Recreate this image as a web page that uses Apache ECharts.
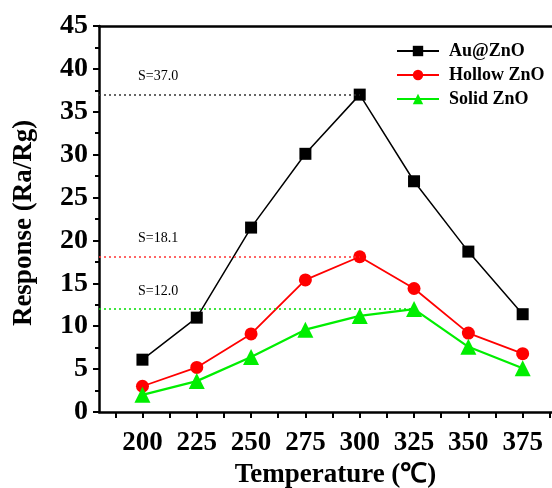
<!DOCTYPE html>
<html>
<head>
<meta charset="utf-8">
<script src="https://cdn.jsdelivr.net/npm/echarts@6/dist/echarts.min.js"></script>
<style>
    html, body { margin: 0; padding: 0; background: #fff; }
    #main { width: 552px; height: 488px; }
</style>
</head>
<body>
<div id="main"></div>
<script>
// 温度 (℃)
var temps = [200, 225, 250, 275, 300, 325, 350, 375];
var tickTemps = [187.5, 200, 212.5, 225, 237.5, 250, 262.5, 275, 287.5, 300, 312.5, 325, 337.5, 350, 362.5, 375, 387.5];
// 响应值 (Ra/Rg)
var auZno = [6.1, 11.0, 21.5, 30.1, 37.0, 26.9, 18.7, 11.4];
var hollowZno = [3.0, 5.2, 9.1, 15.4, 18.1, 14.4, 9.2, 6.8];
var solidZno = [2.0, 3.6, 6.4, 9.6, 11.2, 12.0, 7.6, 5.1];
// 最大响应标注
var peakTemps = [300, 300, 325];
var peakValues = [37.0, 18.1, 12.0];

var serif = '"Liberation Serif", "Times New Roman", serif';

function pairs(ys) {
    return temps.map(function (t, i) { return [t, ys[i]]; });
}

function peakLine(i, color) {
    return {
        symbol: 'none',
        silent: true,
        animation: false,
        lineStyle: { type: [2, 3], color: color, width: 1.5 },
        label: {
            show: true,
            position: 'insideStartTop',
            distance: [39, 11],
            formatter: 'S=' + peakValues[i].toFixed(1),
            color: '#000',
            fontFamily: serif,
            fontSize: 14
        },
        data: [[{ coord: [180, peakValues[i]] }, { coord: [peakTemps[i], peakValues[i]] }]]
    };
}

var option = {
    animation: false,
    backgroundColor: '#fff',
    grid: { left: 99, right: 0, top: 26, bottom: 76, outerBoundsMode: 'none', containLabel: false },
    legend: {
        orient: 'vertical',
        left: 396,
        top: 42,
        padding: 0,
        itemWidth: 42,
        itemHeight: 13,
        itemGap: 6,
        textStyle: { fontFamily: serif, fontSize: 18, fontWeight: 'bold', color: '#000', padding: [0, 0, 0, 5] },
        data: ['Au@ZnO', 'Hollow ZnO', 'Solid ZnO']
    },
    xAxis: [{
        type: 'value',
        min: 180,
        max: 388.5,
        position: 'bottom',
        splitLine: { show: false },
        axisLine: { lineStyle: { color: '#000', width: 2.5 } },
        axisTick: { inside: false, length: 6, lineStyle: { width: 2, color: '#000' }, customValues: tickTemps },
        axisLabel: { customValues: temps, margin: 18, color: '#000', fontFamily: serif, fontSize: 27, fontWeight: 'bold' },
        name: 'Temperature (℃)',
        nameLocation: 'middle',
        nameGap: 43,
        nameTextStyle: { color: '#000', fontFamily: serif, fontSize: 27, fontWeight: 'bold', padding: [0, 0, 0, 20] }
    }, {
        type: 'value',
        min: 180,
        max: 388.5,
        position: 'top',
        splitLine: { show: false },
        axisLine: { lineStyle: { color: '#000', width: 2.5 } },
        axisTick: { show: false },
        axisLabel: { show: false }
    }],
    yAxis: {
        type: 'value',
        min: 0,
        max: 45,
        interval: 5,
        splitLine: { show: false },
        axisLine: { show: true, lineStyle: { color: '#000', width: 2.5 } },
        axisTick: { show: true, inside: false, length: 6, lineStyle: { width: 2, color: '#000' } },
        minorTick: { show: true, splitNumber: 2, length: 4, lineStyle: { width: 2, color: '#000' } },
        axisLabel: { margin: 11, color: '#000', fontFamily: serif, fontSize: 28, fontWeight: 'bold' },
        name: 'Response (Ra/Rg)',
        nameLocation: 'middle',
        nameGap: 61,
        nameTextStyle: { color: '#000', fontFamily: serif, fontSize: 27, fontWeight: 'bold', padding: [0, 8, 0, 0] }
    },
    series: [{
        name: 'Au@ZnO',
        type: 'line',
        data: pairs(auZno),
        symbol: 'rect',
        symbolSize: 12,
        color: '#000',
        lineStyle: { width: 1.5, color: '#000' },
        itemStyle: { color: '#000' },
        markLine: peakLine(0, '#333')
    }, {
        name: 'Hollow ZnO',
        type: 'line',
        data: pairs(hollowZno),
        symbol: 'circle',
        symbolSize: 13,
        color: '#ff0000',
        lineStyle: { width: 1.8, color: '#ff0000' },
        itemStyle: { color: '#ff0000' },
        markLine: peakLine(1, '#ff3333')
    }, {
        name: 'Solid ZnO',
        type: 'line',
        data: pairs(solidZno),
        symbol: 'triangle',
        symbolSize: 16,
        color: '#00ee00',
        lineStyle: { width: 2.2, color: '#00ee00' },
        itemStyle: { color: '#00ee00' },
        markLine: peakLine(2, '#00dd00')
    }]
};

var myChart = echarts.init(document.getElementById('main'));
myChart.setOption(option);
</script>
</body>
</html>
